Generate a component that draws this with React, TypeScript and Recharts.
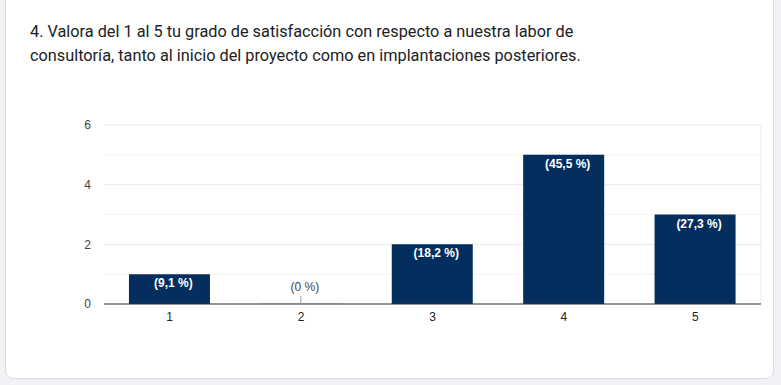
import React from "react";
import { BarChart, Bar, XAxis, YAxis, CartesianGrid, LabelList, Cell } from "recharts";

const categories = ["1", "2", "3", "4", "5"];
const counts = [1, 0, 2, 5, 3];
const percentLabels = ["(9,1 %)", "(0 %)", "(18,2 %)", "(45,5 %)", "(27,3 %)"];
const yTicks = [0, 1, 2, 3, 4, 5, 6];
const titleLines = [
  "4. Valora del 1 al 5 tu grado de satisfacción con respecto a nuestra labor de",
  "consultoría, tanto al inicio del proyecto como en implantaciones posteriores.",
];

const data = categories.map((c, i) => ({ name: c, value: counts[i], label: percentLabels[i] }));

const FONT = "Arial, 'Liberation Sans', sans-serif";

const renderLabel = (props: any) => {
  const { x, y, width, height, value } = props;
  const idx = percentLabels.indexOf(String(value));
  const count = idx >= 0 ? counts[idx] : 1;
  const cx = Number(x) + Number(width) / 2;
  if (!count) {
    const base = Number(y) + Number(height || 0);
    return (
      <g>
        <line x1={cx} x2={cx} y1={base - 8} y2={base} stroke="#999" strokeWidth={1} />
        <text x={cx + 4} y={base - 13} textAnchor="middle" fontFamily={FONT} fontSize={12} fill="#444">
          {value}
        </text>
      </g>
    );
  }
  return (
    <text x={cx + 4} y={Number(y) + 13} textAnchor="middle" fontFamily={FONT} fontSize={12} fontWeight="bold" fill="#ffffff">
      {value}
    </text>
  );
};

const gridLine = (p: any) => {
  const major = p.index % 2 === 0;
  return (
    <line
      key={p.key ?? `g-${p.index}`}
      x1={p.x1}
      x2={p.x2}
      y1={p.y1}
      y2={p.y2}
      stroke={major ? "#e9e9e9" : "#f3f3f3"}
      strokeWidth={1}
      fill="none"
    />
  );
};

export default function App() {
  return (
    <div style={{ position: "absolute", left: 0, top: 0, width: 781, height: 385, background: "#f1f2f6", overflow: "hidden" }}>
      <div
        style={{
          position: "absolute",
          left: 5,
          top: -12,
          width: 767,
          height: 389,
          background: "#ffffff",
          border: "1px solid #dadce0",
          borderRadius: 8,
        }}
      />
      <div
        style={{
          position: "absolute",
          left: 30,
          top: 20,
          width: 700,
          fontFamily: "Roboto, Arial, sans-serif",
          fontSize: 16.3,
          lineHeight: "24px",
          color: "#202124",
          whiteSpace: "nowrap",
        }}
      >
        {titleLines.map((l, i) => (
          <div key={i}>{l}</div>
        ))}
      </div>
      <div style={{ position: "absolute", left: 0, top: 0 }}>
        <BarChart width={781} height={385} data={data} margin={{ top: 125, right: 20, bottom: 51, left: 0 }} barCategoryGap="19%">
          <CartesianGrid
            horizontal={gridLine}
            stroke="#ebebeb"
            vertical={true}
            verticalCoordinatesGenerator={({ offset }: any) => [offset.left + offset.width]}
          />
          <XAxis
            dataKey="name"
            axisLine={{ stroke: "#333333" }}
            tickLine={false}
            tick={{ fontFamily: FONT, fontSize: 12, fill: "#222" }}
          />
          <YAxis
            width={104}
            domain={[0, 6]}
            ticks={yTicks}
            interval={0}
            tickFormatter={(v: number) => (v % 2 === 0 ? String(v) : "")}
            axisLine={false}
            tickLine={false}
            tickMargin={7}
            tick={{ fontFamily: FONT, fontSize: 12, fill: "#444" }}
          />
          <Bar dataKey="value" fill="#032e5e" minPointSize={1} isAnimationActive={false}>
            {data.map((d, i) => (
              <Cell key={i} fill={d.value ? "#032e5e" : "#e0e0e0"} />
            ))}
            <LabelList dataKey="label" content={renderLabel} />
          </Bar>
        </BarChart>
      </div>
    </div>
  );
}
